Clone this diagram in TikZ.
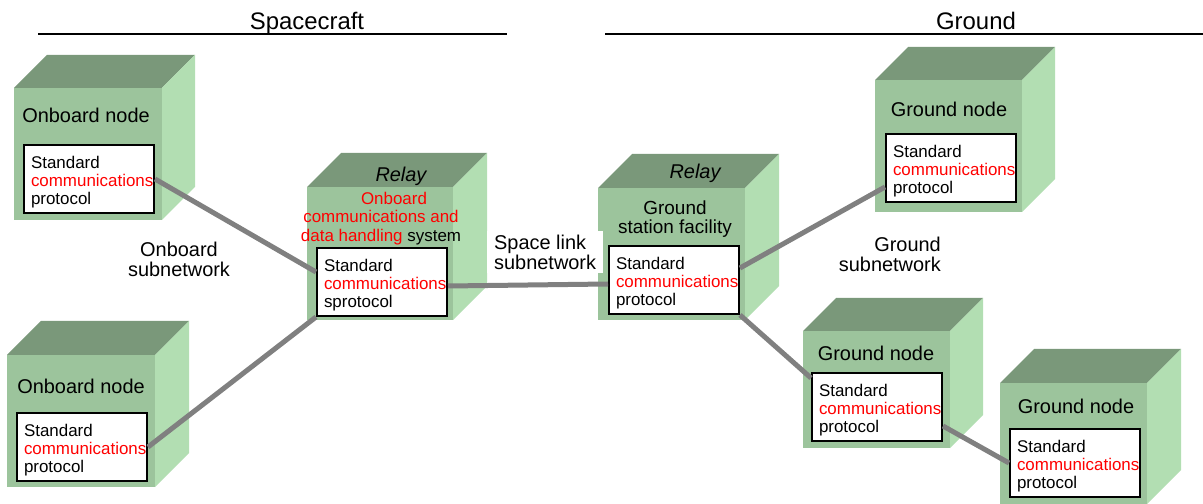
\documentclass[tikz,border=0pt]{standalone}
\usepackage{fontspec}
\setmainfont{Liberation Sans}
\definecolor{cubefront}{RGB}{156,196,156}
\definecolor{cubetop}{RGB}{122,152,122}
\definecolor{cubeside}{RGB}{178,222,178}
\definecolor{linkgray}{RGB}{128,128,128}
\newcommand{\stdproto}{\rule{0pt}{18.5bp}Standard\\\textcolor{red}{communications}\\protocol}
\tikzset{
  protbox/.style={draw,line width=2bp,fill=white,anchor=north west,minimum width=130bp,minimum height=68bp,
    text width=116bp,inner xsep=7bp,align=left,font=\fontsize{17}{18.5}\selectfont},
  cubelabel/.style={anchor=base,inner sep=0pt,font=\fontsize{20}{21}\selectfont},
  netlabel/.style={inner sep=0pt,font=\fontsize{20}{20}\selectfont},
  link/.style={linkgray,line width=5bp},
}

\begin{document}
\begin{tikzpicture}[x=1bp,y=-1bp]
            \useasboundingbox (0,0) rectangle (1203,504);
            % cubes: x/y/width/height/depth
            \foreach \x/\y/\w/\h/\d in {14/88/148/132/33, 7/355/148/132/34, 307/187/146/133/34, 598/188/147/132/34,
                                        875/80/147/132/33, 803/331/147/117/33, 1000/383/147/121/34}{
                \fill[cubefront] (\x,\y) rectangle ++(\w,\h);
                \fill[cubetop] (\x,\y) -- ++(\d,-\d) -- ++(\w,0) -- ++(-\d,\d) -- cycle;
                \fill[cubeside] (\x+\w,\y) -- ++(\d,-\d) -- ++(0,\h) -- ++(-\d,\d) -- cycle;
            }
            \node[cubelabel] (onlab1) at (86,123) {Onboard node};
            \node[cubelabel] (onlab2) at (81,393) {Onboard node};
            \node[cubelabel] (rellab1) at (401,182) {\itshape Relay};
            \node[cubelabel] (rellab2) at (695,179) {\itshape Relay};
            \node[cubelabel] (grlab1) at (949,117) {Ground node};
            \node[cubelabel] (grlab2) at (876,361) {Ground node};
            \node[cubelabel] (grlab3) at (1076,413) {Ground node};
            \node[inner sep=0pt,align=center,font=\fontsize{17}{18.5}\selectfont] (obdh) at (381,218.6)
                {\hspace*{26bp}\textcolor{red}{Onboard}\\\textcolor{red}{communications and}\\\textcolor{red}{data handling} system};
            \node[inner sep=0pt,align=center,font=\fontsize{19}{18.5}\selectfont] (gsf) at (675,219) {Ground\\station facility};
            % protocol boxes
            \node[protbox] (on1) at (23,144) {\stdproto};
            \node[protbox] (on2) at (16,412) {\stdproto};
            \node[protbox] (rel1) at (316,247) {\rule{0pt}{18.5bp}Standard\\\textcolor{red}{communications}\\sprotocol};
            \node[protbox] (rel2) at (608,245) {\stdproto};
            \node[protbox] (gr1) at (885,133) {\stdproto};
            \node[protbox] (gr2) at (811,372) {\stdproto};
            \node[protbox] (gr3) at (1009,428) {\stdproto};
            % subnetworks
            \draw[link] (on1.east) -- ([yshift=10bp]rel1.west);
            \draw[link] (on2.east) -- (rel1.south west);
            \draw[link] ([yshift=-4bp]rel1.east) -- ([yshift=-4bp]rel2.west);
            \draw[link] ([yshift=12bp]rel2.east) -- ([yshift=-19bp]gr1.west);
            \draw[link] (rel2.south east) -- ([yshift=-6bp]gr2.north west);
            \draw[link] ([yshift=-19bp]gr2.east) -- (gr3.west);
            \node[netlabel,align=center] (obnet) at (179,259.7) {Onboard\\subnetwork};
            \node[netlabel,align=left,fill=white,anchor=west,inner xsep=7bp,inner ysep=4bp] (slnet) at (487,252) {Space link\\subnetwork};
            \node[netlabel,align=right,anchor=east] (grnet) at (941,254.7) {Ground\\subnetwork};
            % headings
            \node[anchor=base,font=\fontsize{24}{24}\selectfont] (sc) at (307,30) {Spacecraft};
            \node[anchor=base,font=\fontsize{24}{24}\selectfont] (gnd) at (976,30) {Ground};
            \draw[line width=1.5bp] (38,34) -- (507,34);
            \draw[line width=1.5bp] (605,34) -- (1203,34);
\end{tikzpicture}
\end{document}
